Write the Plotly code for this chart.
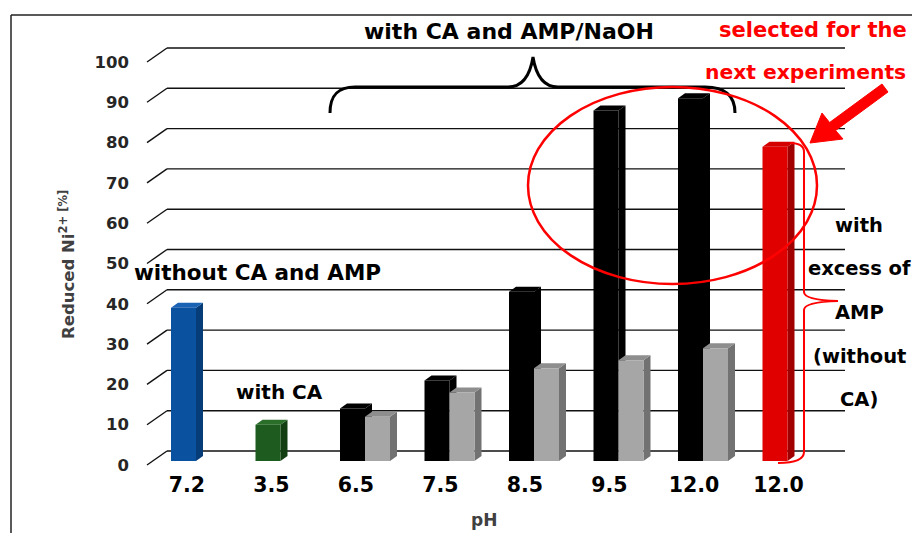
import plotly.graph_objects as go

# ---------------- data ----------------
categories = ["7.2", "3.5", "6.5", "7.5", "8.5", "9.5", "12.0", "12.0"]
series_main = [38, 9, 13, 20, 42, 87, 90, 78]          # first bar of each pH slot
series_second = [None, None, 11, 17, 23, 25, 28, None]  # grey bars
y_tick_values = [0, 10, 20, 30, 40, 50, 60, 70, 80, 90, 100]

main_front = ["#0A52A0", "#1E5B1E", "#000000", "#000000", "#000000", "#000000", "#000000", "#E00000"]
main_side = ["#063C78", "#123E12", "#000000", "#000000", "#000000", "#000000", "#000000", "#A00000"]
main_top = ["#1A62B4", "#2A6E2A", "#000000", "#000000", "#000000", "#000000", "#000000", "#D40000"]
grey_front, grey_side, grey_top = "#A6A6A6", "#727272", "#8E8E8E"

# ---------------- geometry ----------------
W, H = 912, 533
ML, MR, MT, MB = 140, 62, 40, 63
PW, PH = W - ML - MR, H - MT - MB
SLOT = 84.5          # px per category
X0_PX = 196          # px of category 0 centre
YPU = 4.03           # px per value unit
BASE_PX = 461        # px of value 0 (bar base)
XR = [-(X0_PX - ML) / SLOT, -(X0_PX - ML) / SLOT + PW / SLOT]
YR = [-(H - MB - BASE_PX) / YPU, (BASE_PX - MT) / YPU]
BARGAP = 1 - 50 / SLOT
BW = (1 - BARGAP) / 2
DX, DY = 7 / SLOT, 5 / YPU   # depth of the 3D faces in data units


def pxx(px):
    return (px - ML) / PW


def pxy(py):
    return (H - MB - py) / PH


fig = go.Figure()
xs = list(range(len(categories)))
fig.add_trace(go.Bar(x=xs, y=series_main, marker=dict(color=main_front, line=dict(width=0)),
                     showlegend=False, hoverinfo="skip"))
fig.add_trace(go.Bar(x=xs, y=series_second, marker=dict(color=grey_front, line=dict(width=0)),
                     showlegend=False, hoverinfo="skip"))

shapes = []
# back-wall gridlines and side-wall diagonals
for v in y_tick_values:
    shapes.append(dict(type="line", xref="x", yref="y", xsizemode="pixel", xanchor=XR[0],
                       ysizemode="pixel", yanchor=v, x0=27, x1=705, y0=10, y1=10,
                       line=dict(color="#111111", width=1.4), layer="below"))
    shapes.append(dict(type="line", xref="x", yref="y", xsizemode="pixel", xanchor=XR[0],
                       ysizemode="pixel", yanchor=v, x0=7, x1=27, y0=-4, y1=10,
                       line=dict(color="#111111", width=1.4), layer="below"))


def faces(xl, xr, v, top, side):
    out = []
    out.append(dict(type="path", xref="x", yref="y", layer="below", line=dict(width=0), fillcolor=side,
                    path=f"M {xr},{v} L {xr+DX},{v+DY} L {xr+DX},{DY} L {xr},0 Z"))
    out.append(dict(type="path", xref="x", yref="y", layer="below", line=dict(width=0), fillcolor=top,
                    path=f"M {xl},{v} L {xr},{v} L {xr+DX},{v+DY} L {xl+DX},{v+DY} Z"))
    return out


for i, v in enumerate(series_main):
    if v is not None:
        shapes += faces(i - BW, i, v, main_top[i], main_side[i])
for i, v in enumerate(series_second):
    if v is not None:
        shapes += faces(i, i + BW, v, grey_top, grey_side)


def to_paper_path(cmds):
    s = []
    for c in cmds:
        if isinstance(c, str):
            s.append(c)
        else:
            s.append(f"{pxx(c[0]):.5f},{pxy(c[1]):.5f}")
    return " ".join(s)


# black curly brace over the CA + AMP/NaOH group
brace = to_paper_path(["M", (330, 113), "C", (330, 95), (338, 87), (355, 87), "L", (508, 87),
                       "C", (522, 87), (530, 76), (533, 57), "C", (536, 76), (544, 87), (558, 87),
                       "L", (705, 87), "C", (724, 87), (735, 95), (735, 113)])
shapes.append(dict(type="path", xref="paper", yref="paper", path=brace,
                   line=dict(color="black", width=3)))
# red ellipse
shapes.append(dict(type="circle", xref="paper", yref="paper", x0=pxx(528), x1=pxx(817),
                   y0=pxy(284), y1=pxy(87), line=dict(color="#FF0000", width=2.5)))
# red arrow
arrow = to_paper_path(["M", (882.0, 84.0), "L", (829.6, 122.5), "L", (822.0, 113.0), "L", (810, 143),
                       "L", (843.0, 139.0), "L", (835.6, 130.5), "L", (888.0, 92.0), "Z"])
shapes.append(dict(type="path", xref="paper", yref="paper", path=arrow, fillcolor="#FF0000",
                   line=dict(color="#FF0000", width=1)))
# red bracket on the right
bracket = to_paper_path(["M", (790, 143), "Q", (804, 143), (804, 152), "L", (804, 292),
                         "Q", (804, 300), (838, 301), "Q", (804, 302), (804, 310), "L", (804, 452),
                         "Q", (804, 463), (778, 463)])
shapes.append(dict(type="path", xref="paper", yref="paper", path=bracket,
                   line=dict(color="#FF0000", width=2)))
# frame
shapes.append(dict(type="line", xref="paper", yref="paper", x0=pxx(11), x1=pxx(11), y0=pxy(15), y1=pxy(540),
                   line=dict(color="#222222", width=1.5)))
shapes.append(dict(type="line", xref="paper", yref="paper", x0=pxx(11), x1=pxx(920), y0=pxy(15), y1=pxy(15),
                   line=dict(color="#222222", width=1.5)))

FONT = "DejaVu Sans"
ann = []


def text(t, x, y, size, color="black", xanchor="center", bold=True, angle=0):
    ann.append(dict(text=f"<b>{t}</b>" if bold else t, x=pxx(x), y=pxy(y), xref="paper", yref="paper",
                    xanchor=xanchor, yanchor="middle", showarrow=False, textangle=angle,
                    font=dict(family=FONT, size=size, color=color)))


text("with CA and AMP/NaOH", 509, 31, 22)
text("selected for the", 717, 30, 21, "#FF0000", "left")
text("next experiments", 908, 72, 20.3, "#FF0000", "right")
text("without CA and AMP", 132, 272, 21.5, xanchor="left")
text("with CA", 279, 392, 20)
for t, yy in [("with", 225), ("excess of", 268), ("AMP", 312), ("(without", 356), ("CA)", 400)]:
    text(t, 859, yy, 19.5)
text("pH", 484, 520, 17, "#404040")
ann.append(dict(text="<b>Reduced Ni<sup>2+ [%]</sup></b>", x=pxx(67), y=pxy(265), xref="paper", yref="paper",
                xanchor="center", yanchor="middle", showarrow=False, textangle=-90,
                font=dict(family=FONT, size=16.5, color="#404040")))

fig.update_layout(
    width=W, height=H, margin=dict(l=ML, r=MR, t=MT, b=MB),
    paper_bgcolor="white", plot_bgcolor="white",
    barmode="group", bargap=BARGAP, bargroupgap=0,
    shapes=shapes, annotations=ann, showlegend=False,
    xaxis=dict(range=XR, tickmode="array", tickvals=[i - 0.107 for i in xs], ticktext=[f"<b>{c}</b>" for c in categories],
               showgrid=False, zeroline=False, showline=False, ticks="",
               tickfont=dict(family=FONT, size=20.5, color="black")),
    yaxis=dict(range=YR, tickmode="array", tickvals=[v - 4 / YPU for v in y_tick_values],
               ticktext=[f"<b>{v}</b>" for v in y_tick_values],
               showgrid=False, zeroline=False, showline=False, ticks="", ticklabelstandoff=10,
               tickfont=dict(family=FONT, size=16.5, color="#262626")),
)

fig.write_html("out.html")
